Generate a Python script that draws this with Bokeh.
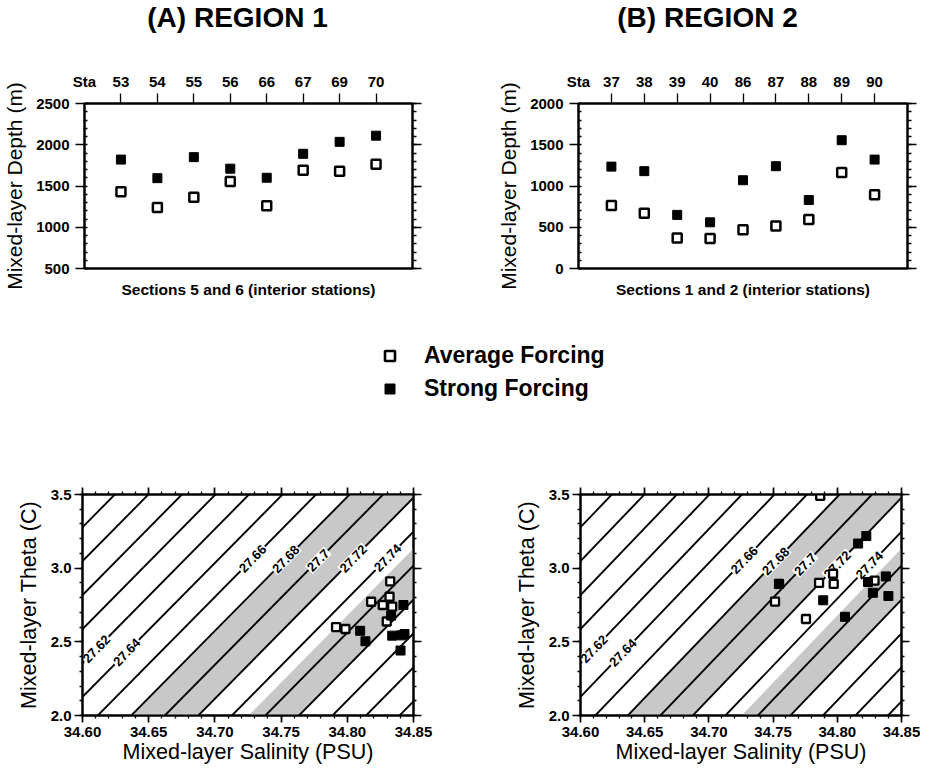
import math
from bokeh.plotting import figure
from bokeh.models import (Range1d, LinearAxis, FixedTicker, Label, Legend, LegendItem,
                          NumeralTickFormatter, CustomJSTickFormatter)
from bokeh.layouts import column, row
from bokeh.embed import file_html
from bokeh.resources import INLINE
from bokeh.core.properties import value

FONT = "Liberation Sans"
GREY = "#c8c8c8"

# ---------------- data: mixed-layer depth ----------------
stations_r1 = ["53", "54", "55", "56", "66", "67", "69", "70"]
avg_depth_r1 = [1430, 1240, 1365, 1555, 1260, 1690, 1680, 1765]
strong_depth_r1 = [1820, 1595, 1850, 1710, 1600, 1890, 2035, 2110]

stations_r2 = ["37", "38", "39", "40", "86", "87", "88", "89", "90"]
avg_depth_r2 = [765, 670, 370, 365, 470, 515, 595, 1165, 895]
strong_depth_r2 = [1235, 1180, 650, 560, 1070, 1240, 830, 1555, 1320]

depth_ticks_r1 = [500, 1000, 1500, 2000, 2500]
depth_ticks_r2 = [0, 500, 1000, 1500, 2000]

# ---------------- data: theta / salinity ----------------
avg_sal_r1 = [34.7915, 34.7986, 34.818, 34.8324, 34.8319, 34.8268, 34.8339, 34.8298]
avg_theta_r1 = [2.600, 2.587, 2.772, 2.911, 2.806, 2.750, 2.739, 2.638]
strong_sal_r1 = [34.8097, 34.8137, 34.8331, 34.8424, 34.8339, 34.8407, 34.8432, 34.8402]
strong_theta_r1 = [2.575, 2.504, 2.678, 2.750, 2.542, 2.544, 2.553, 2.441]

avg_sal_r2 = [34.7515, 34.7546, 34.7756, 34.7858, 34.7967, 34.7972, 34.7867, 34.829]
avg_theta_r2 = [2.773, 2.893, 2.655, 2.900, 2.962, 2.893, 3.49, 2.915]
strong_sal_r2 = [34.8162, 34.8226, 34.8239, 34.8277, 34.8378, 34.8398, 34.806, 34.789, 34.7546]
strong_theta_r2 = [3.167, 3.218, 2.906, 2.833, 2.944, 2.811, 2.670, 2.782, 2.893]

sal_ticks = [34.60, 34.65, 34.70, 34.75, 34.80, 34.85]
theta_ticks = [2.0, 2.5, 3.0, 3.5]

# isopycnals (sigma-theta) drawn in the T-S panels
sigma_levels = [27.52, 27.54, 27.56, 27.58, 27.60, 27.62, 27.64, 27.66, 27.68,
                27.70, 27.72, 27.74, 27.76, 27.78, 27.80, 27.82, 27.84]
sigma_label_levels = [27.62, 27.64, 27.66, 27.68, 27.70, 27.72, 27.74]
sigma_label_text = ["27.62", "27.64", "27.66", "27.68", "27.7", "27.72", "27.74"]
sigma_label_sal_r1 = [34.6105, 34.6335, 34.7285, 34.7535, 34.778, 34.8045, 34.8305]
sigma_label_sal_r2 = [34.6105, 34.633, 34.7275, 34.752, 34.775, 34.800, 34.825]
shade_bands = [(27.68, 27.72), (27.75, 27.78)]

# linear equation of state matching the isopycnals of the figure
SIG_REF, S_REF, T_REF = 27.66, 34.6115, 2.0
ALPHA_S = 0.7896
BETA_T = 0.0868
S_EXTENT = [34.50, 34.95]

titles = ["(A) REGION 1", "(B) REGION 2"]
legend_labels = ["Average Forcing", "Strong Forcing"]


def theta_on(sig, s):
    return T_REF + (SIG_REF + ALPHA_S * (s - S_REF) - sig) / BETA_T


def base_axis(ticks, minor, **kw):
    ax = LinearAxis(ticker=FixedTicker(ticks=ticks, minor_ticks=minor))
    ax.axis_line_color = "black"
    ax.axis_line_width = 2
    ax.major_tick_line_color = "black"
    ax.major_tick_line_width = 1.7
    ax.minor_tick_line_color = "black"
    ax.minor_tick_line_width = 1.3
    ax.major_label_text_font = FONT
    ax.major_label_text_font_style = "bold"
    ax.major_label_text_color = "black"
    ax.axis_label_text_font = FONT
    ax.axis_label_text_color = "black"
    ax.axis_label_text_font_style = "normal"
    for k, v in kw.items():
        setattr(ax, k, v)
    return ax


def blank_formatter():
    return CustomJSTickFormatter(code="return ''")


def new_fig(width, height, xr, yr, left, right, top, bottom):
    p = figure(width=width, height=height, x_range=xr, y_range=yr,
               x_axis_location=None, y_axis_location=None,
               toolbar_location=None, output_backend="svg",
               min_border_left=left, min_border_right=right,
               min_border_top=top, min_border_bottom=bottom)
    for g in p.grid:
        g.visible = False
    p.outline_line_color = "black"
    p.outline_line_width = 2
    p.background_fill_color = "white"
    p.border_fill_color = "white"
    return p


def depth_panel(stations, avg, strong, ticks, section_text, width, borders):
    n = len(stations)
    xs = list(range(1, n + 1))
    left, right, top, bottom = borders
    p = new_fig(width, 270, Range1d(0, n + 1), Range1d(ticks[0], ticks[-1]), left, right, top, bottom)
    minor = list(range(ticks[0], ticks[-1] + 1, 100))

    ly = base_axis(ticks, minor, major_tick_out=9, major_tick_in=0, minor_tick_in=3, minor_tick_out=0,
                   major_label_standoff=6, major_label_text_font_size="15px",
                   axis_label="Mixed-layer Depth (m)", axis_label_text_font_size="21px",
                   axis_label_standoff=7)
    p.add_layout(ly, "left")
    ry = base_axis(ticks, minor, major_tick_out=9, major_tick_in=0, minor_tick_in=0, minor_tick_out=4,
                   major_label_standoff=0, formatter=blank_formatter())
    p.add_layout(ry, "right")
    # "Sta" header plus station numbers; tick marks only at the stations
    overrides = {0: "Sta"}
    overrides.update({i + 1: s for i, s in enumerate(stations)})
    tx = base_axis([0] + xs, xs, major_tick_out=0, major_tick_in=0, minor_tick_in=0, minor_tick_out=10,
                   major_label_standoff=4, major_label_text_font_size="15px",
                   major_label_overrides=overrides)
    p.add_layout(tx, "above")
    bx = base_axis([], [], major_tick_out=0, major_tick_in=0, minor_tick_in=0, minor_tick_out=0,
                   axis_label=section_text, axis_label_text_font_size="15.5px",
                   axis_label_text_font_style="bold", axis_label_standoff=12)
    p.add_layout(bx, "below")

    p.scatter(xs, avg, marker="square", size=9, fill_color="white", line_color="black", line_width=2.5)
    p.scatter(xs, strong, marker="square", size=9, fill_color="black", line_color="black", line_width=1)
    return p


def ts_panel(avg_s, avg_t, str_s, str_t, lab_s, width, borders):
    left, right, top, bottom = borders
    p = new_fig(width, 347, Range1d(34.60, 34.85), Range1d(2.0, 3.5), left, right, top, bottom)
    sal_minor = [round(34.60 + 0.01 * i, 2) for i in range(26)]
    th_minor = [round(2.0 + 0.1 * i, 1) for i in range(16)]

    bx = base_axis(sal_ticks, sal_minor, major_tick_out=7, major_tick_in=0, minor_tick_out=3, minor_tick_in=0,
                   major_label_standoff=4, major_label_text_font_size="15px",
                   formatter=NumeralTickFormatter(format="0.00"),
                   axis_label="Mixed-layer Salinity (PSU)", axis_label_text_font_size="21.5px",
                   axis_label_standoff=0)
    p.add_layout(bx, "below")
    tx = base_axis(sal_ticks, sal_minor, major_tick_out=7, major_tick_in=0, minor_tick_out=3, minor_tick_in=0,
                   major_label_standoff=0, formatter=blank_formatter())
    p.add_layout(tx, "above")
    ly = base_axis(theta_ticks, th_minor, major_tick_out=8, major_tick_in=0, minor_tick_out=3, minor_tick_in=0,
                   major_label_standoff=3, major_label_text_font_size="15px",
                   formatter=NumeralTickFormatter(format="0.0"),
                   axis_label="Mixed-layer Theta (C)", axis_label_text_font_size="21.5px",
                   axis_label_standoff=7)
    p.add_layout(ly, "left")
    ry = base_axis(theta_ticks, th_minor, major_tick_out=8, major_tick_in=0, minor_tick_out=3, minor_tick_in=0,
                   major_label_standoff=0, formatter=blank_formatter())
    p.add_layout(ry, "right")

    for lo, hi in shade_bands:
        p.varea(x=S_EXTENT, y1=[theta_on(hi, s) for s in S_EXTENT],
                y2=[theta_on(lo, s) for s in S_EXTENT], fill_color=GREY, fill_alpha=1.0)
    p.multi_line(xs=[S_EXTENT for _ in sigma_levels],
                 ys=[[theta_on(lv, s) for s in S_EXTENT] for lv in sigma_levels],
                 line_color="black", line_width=1.9)
    ang = math.atan(ALPHA_S / BETA_T * (1.0 / 1.5) / (1.0 / 0.25) * (223.0 / 327.0))
    p.text(x=lab_s, y=[theta_on(lv, s) for lv, s in zip(sigma_label_levels, lab_s)],
           text=sigma_label_text, angle=ang, text_font=value(FONT), text_font_style="bold",
           text_font_size="13px", text_align="center", text_baseline="middle",
           text_color="black", background_fill_color="white", padding=1)

    p.scatter(avg_s, avg_t, marker="square", size=8, fill_color="white", line_color="black", line_width=2.3)
    p.scatter(str_s, str_t, marker="square", size=9, fill_color="black", line_color="black", line_width=1)
    return p


# header strip with the two panel titles
pH = figure(width=920, height=50, x_range=Range1d(0, 920), y_range=Range1d(50, 0),
            x_axis_location=None, y_axis_location=None, toolbar_location=None,
            output_backend="svg", min_border=0)
for g in pH.grid:
    g.visible = False
pH.outline_line_color = None
for t, cx in zip(titles, [237, 707]):
    pH.add_layout(Label(x=cx, y=17, text=t, text_font=FONT, text_font_size="28px",
                        text_font_style="bold", text_align="center", text_baseline="middle",
                        text_color="black"))

pA = depth_panel(stations_r1, avg_depth_r1, strong_depth_r1, depth_ticks_r1,
                 "Sections 5 and 6 (interior stations)", 480, (79, 68, 53, 50))
pB = depth_panel(stations_r2, avg_depth_r2, strong_depth_r2, depth_ticks_r2,
                 "Sections 1 and 2 (interior stations)", 440, (98, 13, 50, 52))

# legend strip
pL = figure(width=920, height=100, x_range=Range1d(0, 1), y_range=Range1d(0, 1),
            x_axis_location=None, y_axis_location=None, toolbar_location=None,
            output_backend="svg", min_border=0)
for g in pL.grid:
    g.visible = False
pL.outline_line_color = None
# off-range dummy renderers, used only to supply the legend swatches
r_avg = pL.scatter([-5], [-5], marker="square", size=10, fill_color="white", line_color="black", line_width=2.6)
r_str = pL.scatter([-5], [-5], marker="square", size=10, fill_color="black", line_color="black", line_width=1)
leg = Legend(items=[LegendItem(label=legend_labels[0], renderers=[r_avg]),
                    LegendItem(label=legend_labels[1], renderers=[r_str])],
             location=(377, 15), orientation="vertical",
             label_text_font=FONT, label_text_font_style="bold", label_text_font_size="23px",
             label_text_color="black", label_height=33, glyph_height=25, glyph_width=25,
             label_standoff=22, spacing=0, padding=0, margin=0,
             border_line_color=None, background_fill_alpha=0)
pL.add_layout(leg, "center")

pC = ts_panel(avg_sal_r1, avg_theta_r1, strong_sal_r1, strong_theta_r1, sigma_label_sal_r1,
              480, (82, 67, 74, 52))
pD = ts_panel(avg_sal_r2, avg_theta_r2, strong_sal_r2, strong_theta_r2, sigma_label_sal_r2,
              440, (100, 19, 70, 52))

layout = column(pH, row(pA, pB), pL, row(pC, pD))

with open("out.html", "w") as f:
    f.write(file_html(layout, INLINE))
